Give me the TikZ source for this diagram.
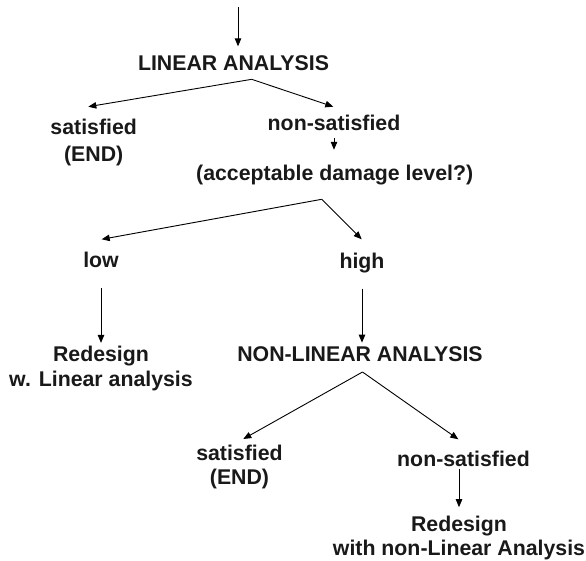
\documentclass[tikz,border=0pt]{standalone}
\usepackage{fontspec}
\setmainfont{Liberation Sans}
\usetikzlibrary{arrows.meta}
\begin{document}
\begin{tikzpicture}[x=1pt,y=-1pt,
  lbl/.style={font=\bfseries\fontsize{21.3}{25}\selectfont, text=black!90, inner sep=0pt, anchor=base, align=center},
  arr/.style={line width=0.9pt, -{Triangle[length=8pt,width=6.5pt]}}]
\useasboundingbox (0,0) rectangle (586,560);
% text nodes (multi-line nodes are placed at the baseline of their last line)
\node[lbl] (lin) at (233.5,70) {LINEAR ANALYSIS};
\node[lbl] (sat1) at (93.7,161) {satisfied\\[2pt](END)};
\node[lbl] (non1) at (334,130) {non-satisfied};
\node[lbl] (acc) at (334.7,180) {(acceptable damage level?)};
\node[lbl] (low) at (101,267) {low};
\node[lbl] (high) at (362,268.5) {high};
\node[lbl] (red1) at (101,386) {Redesign\\w. Linear analysis};
\node[lbl] (nonlin) at (360,361.5) {NON-LINEAR ANALYSIS};
\node[lbl] (sat2) at (239.5,484) {satisfied\\[-1pt](END)};
\node[lbl] (non2) at (463.5,466.5) {non-satisfied};
\node[lbl] (red2) at (459,555.3) {Redesign\\[-1pt]with non-Linear Analysis};
% coordinates
\coordinate (in) at (238,7);
\coordinate (s1) at (251.7,79.3);
\coordinate (s1l) at (88.3,106.7);
\coordinate (s1r) at (333.3,106.7);
\coordinate (s2) at (321.7,199.3);
\coordinate (s2l) at (101.7,239.3);
\coordinate (s2r) at (361.7,239.3);
\coordinate (s3) at (362.5,372);
\coordinate (s3l) at (243.3,439);
\coordinate (s3r) at (458.3,439.3);
% connectors
\draw[arr, shorten >=8.6pt] (in) -- (in |- lin.north);
\draw[arr] (s1) -- (s1l);
\draw[arr] (s1) -- (s1r);
\draw[arr, shorten <=8pt, shorten >=14.6pt] (non1.south) -- (non1.south |- acc.north);
\draw[arr] (s2) -- (s2l);
\draw[arr] (s2) -- (s2r);
\draw[arr, shorten <=21pt, shorten >=2.5pt] (low.south) -- (low.south |- red1.north);
\draw[arr, shorten <=15.4pt, shorten >=3.8pt] (high.south) -- (high.south |- nonlin.north);
\draw[arr] (s3) -- (s3l);
\draw[arr] (s3) -- (s3r);
\draw[arr, shorten <=1.8pt, shorten >=8.5pt] (non2.south -| red2.north) -- (red2.north);
\end{tikzpicture}
\end{document}
